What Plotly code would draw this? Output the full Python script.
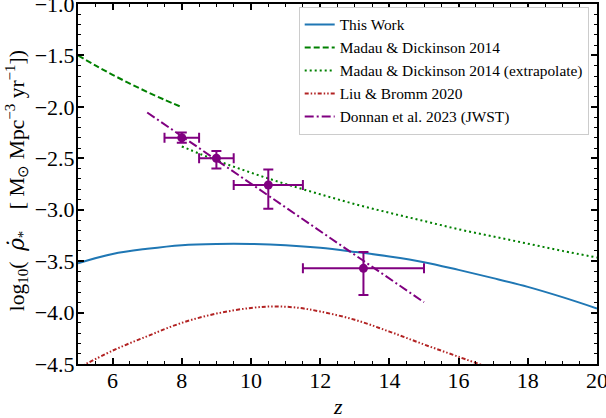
import plotly.graph_objects as go

# ---- data ----
z_this = [5, 6, 7, 8, 9, 10, 11, 12, 13, 14, 15, 16, 17, 18, 19, 20]
rho_this = [-3.52, -3.43, -3.38, -3.345, -3.333, -3.333, -3.345, -3.37, -3.41,
            -3.455, -3.51, -3.585, -3.665, -3.75, -3.85, -3.96]

z_md = [5.0, 5.5, 6.0, 6.5, 7.0, 7.5, 8.0]
rho_md = [-1.50, -1.596, -1.688, -1.774, -1.855, -1.931, -2.003]

z_md_ext = [8, 9, 10, 11, 12, 13, 14, 15, 16, 17, 18, 19, 20]
rho_md_ext = [-2.385, -2.52, -2.64, -2.75, -2.85, -2.945, -3.03, -3.11, -3.19,
              -3.26, -3.33, -3.40, -3.465]

z_lb = [5, 6, 7, 8, 9, 10, 10.7, 11.4, 12, 13, 14, 15, 16, 17]
rho_lb = [-4.54, -4.37, -4.23, -4.10, -4.01, -3.955, -3.94, -3.955, -3.99,
          -4.07, -4.185, -4.31, -4.43, -4.55]

z_don_fit = [7.0, 15.0]
rho_don_fit = [-2.055, -3.90]

z_don = [8.0, 9.0, 10.5, 13.25]
z_don_err = [0.5, 0.5, 1.0, 1.75]
rho_don = [-2.30, -2.50, -2.76, -3.57]
rho_don_up = [0.05, 0.07, 0.15, 0.16]
rho_don_dn = [0.05, 0.10, 0.23, 0.26]

legend_names = ["This Work", "Madau & Dickinson 2014",
                "Madau & Dickinson 2014 (extrapolate)", "Liu & Bromm 2020",
                "Donnan et al. 2023 (JWST)"]

FONT = "Liberation Serif, Times New Roman, serif"

fig = go.Figure()
fig.add_trace(go.Scatter(x=z_this, y=rho_this, mode="lines", name=legend_names[0],
                         line=dict(color="#1f77b4", width=2, shape="spline")))
fig.add_trace(go.Scatter(x=z_md, y=rho_md, mode="lines", name=legend_names[1],
                         line=dict(color="#008000", width=2, dash="6px,3px", shape="spline")))
fig.add_trace(go.Scatter(x=z_md_ext, y=rho_md_ext, mode="lines", name=legend_names[2],
                         line=dict(color="#008000", width=2, dash="2px,3px", shape="spline")))
fig.add_trace(go.Scatter(x=z_lb, y=rho_lb, mode="lines", name=legend_names[3],
                         line=dict(color="#b22222", width=2, dash="4px,2px,1.5px,2px,1.5px,2px",
                                   shape="spline")))
fig.add_trace(go.Scatter(x=z_don_fit, y=rho_don_fit, mode="lines", name=legend_names[4],
                         line=dict(color="#800080", width=2, dash="9px,3px,2px,3px")))
fig.add_trace(go.Scatter(x=z_don, y=rho_don, mode="markers", showlegend=False,
                         marker=dict(color="#800080", size=9),
                         error_x=dict(type="data", array=z_don_err, color="#800080",
                                      thickness=2, width=5),
                         error_y=dict(type="data", array=rho_don_up, arrayminus=rho_don_dn,
                                      color="#800080", thickness=2, width=5)))

axis_common = dict(showline=True, linecolor="black", linewidth=2, mirror="ticks",
                   ticks="inside", ticklen=6, tickwidth=1.5, tickcolor="black",
                   showgrid=False, zeroline=False, automargin=False,
                   ticklabeloverflow="allow",
                   tickfont=dict(family=FONT, size=22, color="black"))

fig.update_xaxes(range=[5, 20], tick0=6, dtick=2, ticklabelstandoff=-4,
                 minor=dict(ticks="inside", dtick=0.5, ticklen=3, tickwidth=1, tickcolor="black"),
                 **axis_common)
fig.update_yaxes(range=[-4.5, -1.0], dtick=0.5, tickformat=".1f", ticklabelstandoff=-3,
                 minor=dict(ticks="inside", dtick=0.1, ticklen=3, tickwidth=1, tickcolor="black"),
                 **axis_common)

fig.add_annotation(text="<span style='font-style:italic'>z</span>", xref="paper", yref="paper",
                   x=0.5, y=-0.117, xanchor="center", yanchor="middle", showarrow=False,
                   font=dict(family=FONT, size=22, color="black"))
fig.add_annotation(text="log<sub>10</sub>(  <span style='font-family:DejaVu Serif'><i>ρ̇</i></span><sub>*</sub>    [ M<sub>⊙</sub> Mpc<sup>−3</sup> yr<sup>−1</sup>])",
                   xref="paper", yref="paper", x=-0.1175, y=0.5076, textangle=-90,
                   xanchor="center", yanchor="middle", showarrow=False,
                   font=dict(family=FONT, size=21.5, color="black"))

fig.update_layout(
    width=606, height=418,
    margin=dict(l=78, r=9, t=4, b=54, autoexpand=False),
    paper_bgcolor="white", plot_bgcolor="white",
    font=dict(family=FONT, color="black"),
    legend=dict(x=0.984, y=0.992, xanchor="right", yanchor="top",
                bgcolor="white", bordercolor="#cccccc", borderwidth=1,
                font=dict(family=FONT, size=15.4, color="black")),
)

fig.write_html("out.html", config={"displayModeBar": False},
               post_script="document.body.style.margin='0';document.body.style.overflow='hidden';")
